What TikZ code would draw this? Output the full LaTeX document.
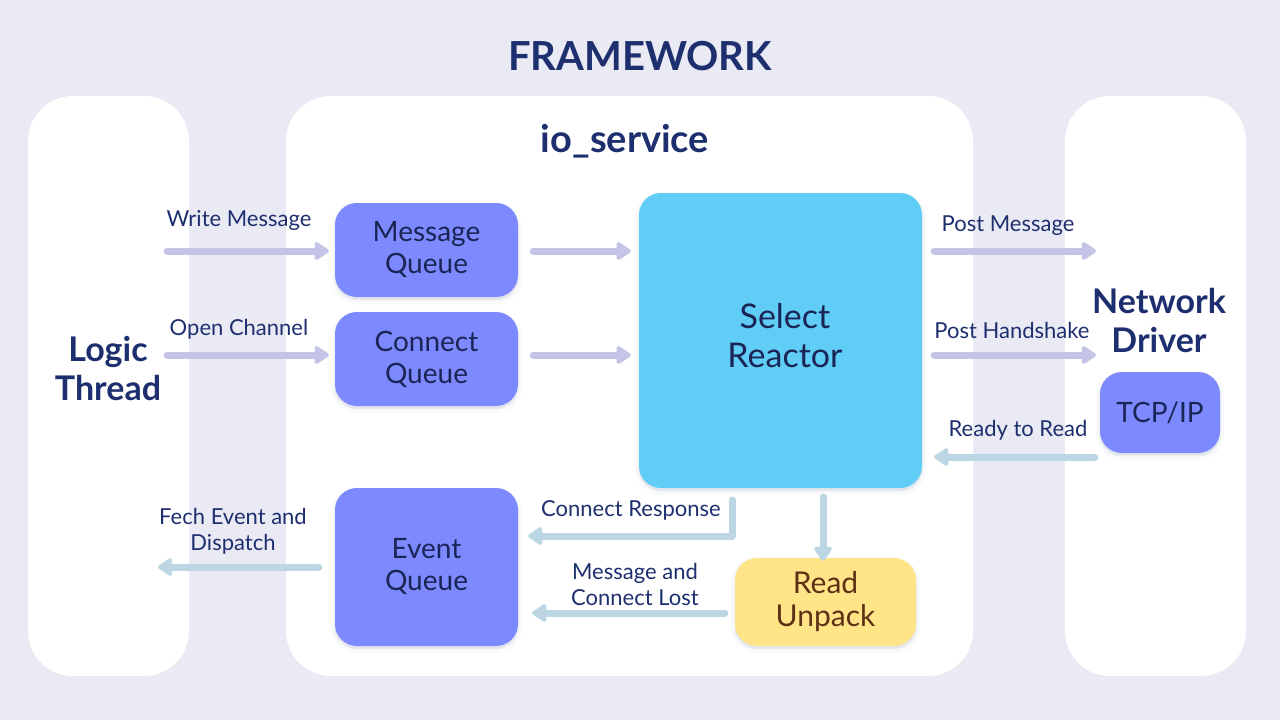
\documentclass[tikz,border=0pt]{standalone}
\usepackage{fontspec}
\setmainfont{Lato}
\usetikzlibrary{arrows.meta}
\definecolor{bg}{HTML}{E9EAF4}
\definecolor{navy}{HTML}{1E2F6F}
\definecolor{boxtext}{HTML}{1B2555}
\definecolor{qblue}{HTML}{7C89FF}
\definecolor{sky}{HTML}{5FCDF5}
\definecolor{sand}{HTML}{FFE588}
\definecolor{brown}{HTML}{5B3214}
\definecolor{lav}{HTML}{C4C4E6}
\definecolor{pale}{HTML}{BCD6E4}
\tikzset{
  panel/.style={fill=white, rounded corners=45pt, draw=none},
  boxbase/.style={rounded corners=22pt, draw=none, align=center, inner sep=0pt,
    preaction={draw=navy, line width=8pt, draw opacity=0.025, fill=navy, fill opacity=0.03, transform canvas={yshift=-3pt}},
    preaction={draw=navy, line width=3pt, draw opacity=0.04, fill=navy, fill opacity=0.03, transform canvas={yshift=-2pt}}},
  qbox/.style={boxbase, fill=qblue, text=boxtext, font=\fontsize{28}{32}\selectfont},
  lbl/.style={text=navy, font=\fontsize{22}{26}\selectfont, align=center, inner sep=0pt},
  heading/.style={text=navy, font=\bfseries\fontsize{34}{39}\selectfont, align=center, inner sep=0pt},
  larrow/.style={draw=lav, line width=7pt, line cap=round, -{Triangle[length=16pt,width=20pt,round]}},
  parrow/.style={draw=pale, line width=7pt, line cap=round, line join=round, -{Triangle[length=16pt,width=20pt,round]}},
}
\begin{document}
\begin{tikzpicture}[x=1pt,y=-1pt]
\fill[bg] (0,0) rectangle (1280,720);
\useasboundingbox (0,0) rectangle (1280,720);

\node[text=navy, font=\bfseries\fontsize{40}{46}\selectfont, inner sep=0pt] (title) at (640,56) {FRAMEWORK};

% panels
\path[panel] (28,96) rectangle (189,676);
\path[panel] (286,96) rectangle (973,676);
\path[panel] (1065,96) rectangle (1246,676);

\node[text=navy, font=\bfseries\fontsize{38}{44}\selectfont, inner sep=0pt] (io) at (625,141) {io\_service};
\node[heading] (logic) at (108,369) {Logic\\Thread};
\node[heading] (net) at (1159,320) {Network\\Driver};

% boxes
\node[qbox, minimum width=183pt, minimum height=94pt] (mq) at (426.5,250) {Message\\Queue};
\node[qbox, minimum width=183pt, minimum height=94pt] (cq) at (426.5,359) {Connect\\Queue};
\node[qbox, minimum width=183pt, minimum height=158pt] (eq) at (426.5,567) {Event\\Queue};
\node[boxbase, fill=sky, minimum width=283pt, minimum height=295pt] (sr) at (780.5,340.5) {};
\node[text=boxtext, font=\fontsize{34}{39}\selectfont, align=center, inner sep=0pt] (srt) at (785,336) {Select\\Reactor};
\node[qbox, minimum width=120pt, minimum height=81pt] (tcp) at (1160,412.5) {TCP/IP};
\node[boxbase, fill=sand, text=brown, font=\fontsize{30}{33}\selectfont, minimum width=181pt, minimum height=88pt] (ru) at (825.5,602) {Read\\Unpack};

% free ends
\coordinate (wmS) at (167,251);
\coordinate (ocS) at (167,355);
\coordinate (pmE) at (1096,251);
\coordinate (phE) at (1096,355);
\coordinate (crS) at (732,500);
\coordinate (dnS) at (823,497);
\coordinate (feE) at (158,567);

% arrows
\draw[larrow] (wmS) -- ([xshift=-6pt]mq.west |- wmS);
\draw[larrow] (ocS) -- ([xshift=-6pt]cq.west |- ocS);
\draw[larrow] ([xshift=15pt]mq.east |- wmS) -- ([xshift=-8pt]sr.west |- wmS);
\draw[larrow] ([xshift=15pt]cq.east |- ocS) -- ([xshift=-8pt]sr.west |- ocS);
\draw[larrow] ([xshift=12pt]sr.east |- pmE) -- (pmE);
\draw[larrow] ([xshift=12pt]sr.east |- phE) -- (phE);
\draw[parrow] ([xshift=-5pt]tcp.west |- 0,457) -- ([xshift=12pt]sr.east |- 0,457);
\draw[parrow] (crS) |- ([xshift=10pt]eq.east |- 0,536);
\draw[parrow] (dnS) -- ([yshift=-3pt]ru.north -| dnS);
\draw[parrow] ([xshift=-10pt]ru.west |- 0,613) -- ([xshift=14pt]eq.east |- 0,613);
\draw[parrow] ([xshift=-16pt]eq.west |- feE) -- (feE);

% labels
\node[lbl] (l1) at (239,220) {Write Message};
\node[lbl] (l2) at (239,329) {Open Channel};
\node[lbl] (l3) at (1008,226) {Post Message};
\node[lbl] (l4) at (1012,330) {Post Handshake};
\node[lbl] (l5) at (1018,430) {Ready to Read};
\node[lbl] (l6) at (631,510) {Connect Response};
\node[lbl] (l7) at (635,584) {Message and\\Connect Lost};
\node[lbl] (l8) at (233,531) {Fech Event and\\Dispatch};
\end{tikzpicture}
\end{document}
